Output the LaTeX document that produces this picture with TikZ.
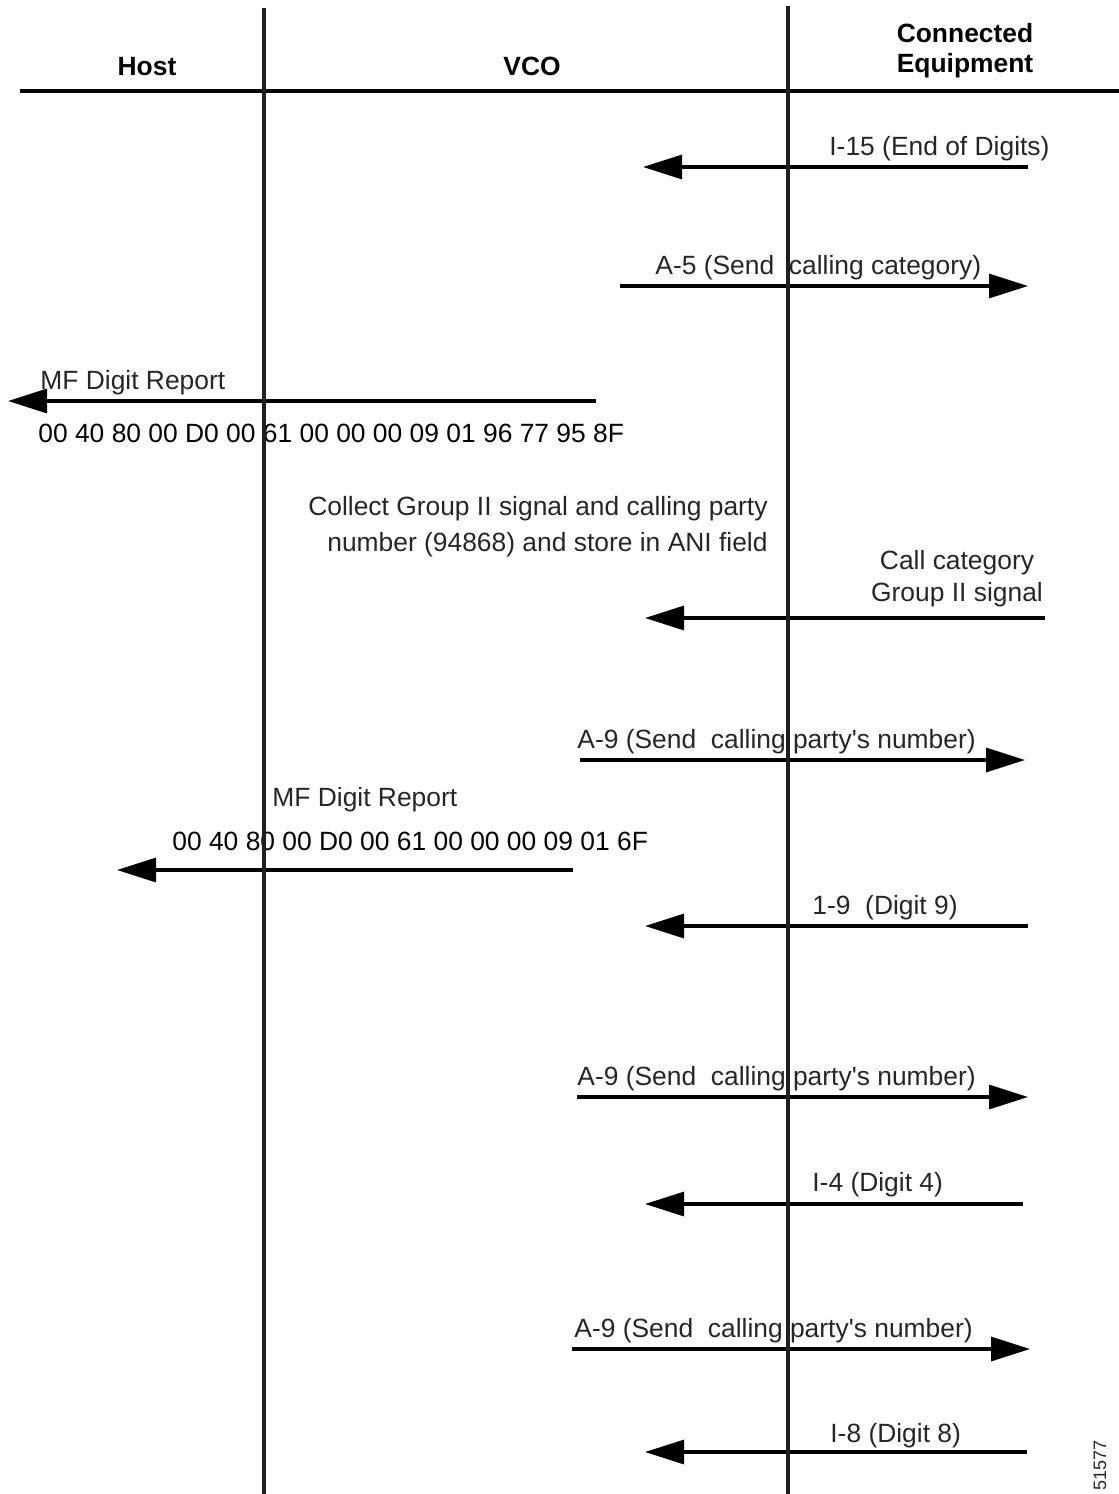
\documentclass[tikz,border=0pt]{standalone}
\usepackage{fontspec}
\setmainfont{Liberation Sans}
\usetikzlibrary{arrows.meta,positioning}

\begin{document}
\begin{tikzpicture}[
    x=0.5pt, y=-0.5pt,
    lifeline/.style={line width=2.4pt, draw=black!88},
    rule/.style={line width=2pt},
    msg/.style={-{Triangle[length=19.5pt, width=12pt]}, line width=1.6pt},
    head/.style={font=\fontsize{13.2}{15}\selectfont\bfseries, align=center, inner sep=0pt},
    msglabel/.style={font=\fontsize{13.2}{16}\selectfont, text=black!85, inner sep=0pt},
    hexdata/.style={font=\fontsize{13.2}{16}\selectfont, inner sep=0pt},
]
\useasboundingbox (0,0) rectangle (1119,1494);

% Column headings
\node[head, anchor=base] (host) at (147,75) {Host};
\node[head, anchor=base] (vco) at (532,75) {VCO};
\node[head, anchor=base] (equip) at (965,72) {Connected\\Equipment};
\coordinate (rulel) at (20,91);
\coordinate (ruler) at (1119,91);
\draw[rule] (rulel) -- (ruler);

% End of digits and calling category
\coordinate (enddigitsa) at (1028,167);
\coordinate (enddigitsb) at (643,167);
\draw[msg] (enddigitsa) -- (enddigitsb);
\node[msglabel, anchor=base west] (enddigits) at (829,155) {I-15 (End of Digits)};

\coordinate (sendcata) at (620,286);
\coordinate (sendcatb) at (1028,286);
\draw[msg] (sendcata) -- (sendcatb);
\node[msglabel, anchor=base west] (sendcat) at (655,274) {A-5 (Send\ \ calling category)};

% First digit report to the host
\coordinate (reportonea) at (596,401);
\coordinate (reportoneb) at (8,401);
\draw[msg] (reportonea) -- (reportoneb);
\node[msglabel, anchor=base west] (reportone) at (40,389) {MF Digit Report};
\node[hexdata, anchor=base west] (hexone) at (38,442) {00 40 80 00 D0 00 61 00 00 00 09 01 96 77 95 8F};

% Group II signal
\node[msglabel, font=\fontsize{13.2}{18}\selectfont, anchor=base east, align=right] (collect) at (768,551) {Collect Group II signal and calling party\\number (94868) and store in ANI field};
\node[msglabel, anchor=base, align=center] (callcat) at (957,601) {Call category\\Group II signal};
\coordinate (callcata) at (1045,618);
\coordinate (callcatb) at (645,618);
\draw[msg] (callcata) -- (callcatb);

% Calling party's number, digit by digit
\coordinate (sendnumonea) at (580,760);
\coordinate (sendnumoneb) at (1025,760);
\draw[msg] (sendnumonea) -- (sendnumoneb);
\node[msglabel, anchor=base west] (sendnumone) at (577,748) {A-9 (Send\ \ calling party\textquotesingle{}s number)};

\node[msglabel, anchor=base west] (reporttwo) at (272,806) {MF Digit Report};
\node[hexdata, anchor=base west] (hextwo) at (172,850) {00 40 80 00 D0 00 61 00 00 00 09 01 6F};
\coordinate (reporttwoa) at (573,870);
\coordinate (reporttwob) at (117,870);
\draw[msg] (reporttwoa) -- (reporttwob);

\coordinate (digitninea) at (1028,926);
\coordinate (digitnineb) at (645,926);
\draw[msg] (digitninea) -- (digitnineb);
\node[msglabel, anchor=base west] (digitnine) at (812,914) {1-9\ \ (Digit 9)};

\coordinate (sendnumtwoa) at (577,1097);
\coordinate (sendnumtwob) at (1028,1097);
\draw[msg] (sendnumtwoa) -- (sendnumtwob);
\node[msglabel, anchor=base west] (sendnumtwo) at (577,1085) {A-9 (Send\ \ calling party\textquotesingle{}s number)};

\coordinate (digitfoura) at (1023,1204);
\coordinate (digitfourb) at (645,1204);
\draw[msg] (digitfoura) -- (digitfourb);
\node[msglabel, anchor=base west] (digitfour) at (812,1191) {I-4 (Digit 4)};

\coordinate (sendnumthreea) at (572,1349);
\coordinate (sendnumthreeb) at (1030,1349);
\draw[msg] (sendnumthreea) -- (sendnumthreeb);
\node[msglabel, anchor=base west] (sendnumthree) at (574,1337) {A-9 (Send\ \ calling party\textquotesingle{}s number)};

\coordinate (digiteighta) at (1027,1452);
\coordinate (digiteightb) at (645,1452);
\draw[msg] (digiteighta) -- (digiteightb);
\node[msglabel, anchor=base west] (digiteight) at (830,1442) {I-8 (Digit 8)};

% Lifelines on top
\coordinate (hosttop) at (264,8);
\coordinate (hostbot) at (264,1494);
\coordinate (vcotop) at (788,6);
\coordinate (vcobot) at (788,1494);
\draw[lifeline] (hosttop) -- (hostbot);
\draw[lifeline] (vcotop) -- (vcobot);

% Figure number
\node[msglabel, font=\fontsize{9}{11}\selectfont, rotate=90] (fignum) at (1100,1465) {51577};

\end{tikzpicture}
\end{document}
